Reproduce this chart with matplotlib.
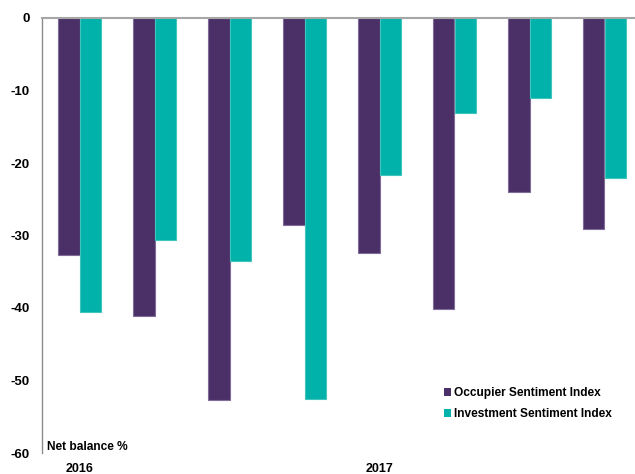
import matplotlib
matplotlib.use("Agg")
import matplotlib.pyplot as plt
import numpy as np

# Data: net balance % per survey quarter
quarters = ["Q1 2016", "Q2 2016", "Q3 2016", "Q4 2016",
            "Q1 2017", "Q2 2017", "Q3 2017", "Q4 2017"]
occupier = [-32.7, -41.1, -52.7, -28.6, -32.4, -40.2, -24.0, -29.1]
investment = [-40.6, -30.6, -33.5, -52.6, -21.6, -13.1, -11.0, -22.1]
year_ticks = [0, 4]
year_labels = ["2016", "2017"]
y_ticks = [0, -10, -20, -30, -40, -50, -60]

plt.rcParams["font.family"] = ["Liberation Sans", "DejaVu Sans"]
plt.rcParams["font.weight"] = "bold"

W, H = 635, 474
fig = plt.figure(figsize=(W / 100, H / 100), dpi=100)
ax = fig.add_axes([42 / W, (H - 453) / H, 600 / W, 435 / H])

purple = "#4B3068"
teal = "#00B2A9"
x = np.arange(len(quarters))
bw = 0.287
ax.bar(x - bw / 2, occupier, bw, color=purple, edgecolor="#7f6c98",
       linewidth=0.8, label="Occupier Sentiment Index")
ax.bar(x + bw / 2, investment, bw, color=teal, edgecolor="#40c4bc",
       linewidth=0.8, label="Investment Sentiment Index")

ax.set_xlim(-0.5, 7.5)
ax.set_ylim(-60, 0)
ax.set_yticks(y_ticks)
ax.set_yticklabels([str(v) for v in y_ticks], fontsize=9.5, fontweight="bold")
ax.tick_params(axis="y", length=0, pad=9)
ax.set_xticks(year_ticks)
ax.set_xticklabels(year_labels, fontsize=9, fontweight="bold")
ax.tick_params(axis="x", length=0, pad=7.5)

for s in ("bottom", "right"):
    ax.spines[s].set_visible(False)
ax.spines["left"].set_color("#8c8c8c")
ax.spines["left"].set_linewidth(1.0)
ax.spines["top"].set_color("#a6a6a6")
ax.spines["top"].set_linewidth(1.5)

ax.text(47 / W, (H - 447) / H, "Net balance %", transform=fig.transFigure,
        fontsize=8.6, fontweight="bold", va="center", ha="left")

leg = ax.legend(loc="upper left", bbox_to_anchor=(444 / W, 1 - 387 / H),
                bbox_transform=fig.transFigure, frameon=False,
                handlelength=0.6, handleheight=0.6, handletextpad=0.25,
                labelspacing=0.75, borderaxespad=0, borderpad=0,
                prop={"size": 8.6, "weight": "bold"})
for h in leg.legend_handles:
    h.set_linewidth(0)

fig.savefig("out.png", dpi=100)
